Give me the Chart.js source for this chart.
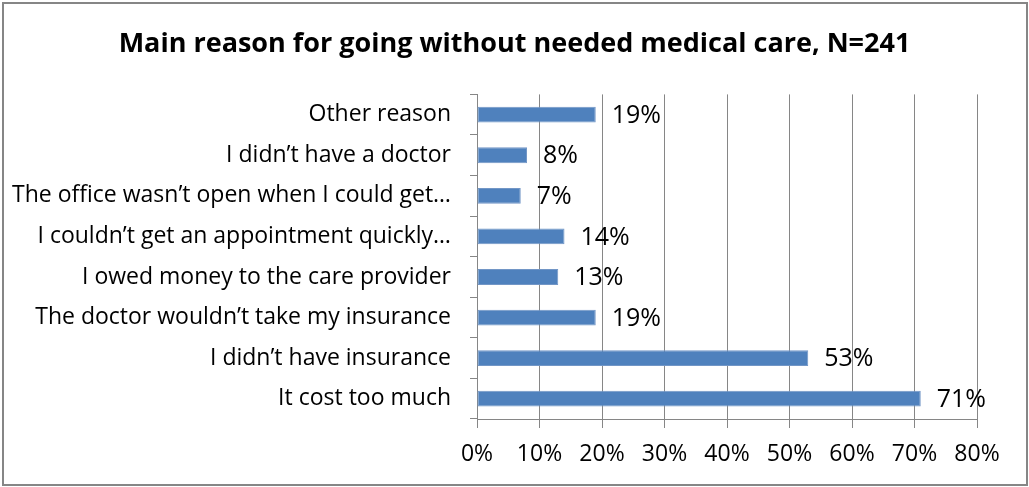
<!DOCTYPE html>
<html>
<head>
<meta charset="utf-8">
<title>Main reason for going without needed medical care</title>
<script src="https://cdn.jsdelivr.net/npm/chart.js@4.4.1/dist/chart.umd.min.js"></script>
<style>
  html, body { margin: 0; padding: 0; background: #fff; }
  #reasonsChart { display: block; }
</style>
</head>
<body>
<canvas id="reasonsChart" width="1029" height="487"></canvas>
<script>
const reasons = [
  'Other reason',
  'I didn\u2019t have a doctor',
  'The office wasn\u2019t open when I could get\u2026',
  'I couldn\u2019t get an appointment quickly\u2026',
  'I owed money to the care provider',
  'The doctor wouldn\u2019t take my insurance',
  'I didn\u2019t have insurance',
  'It cost too much'
];
const percents = [19, 8, 7, 14, 13, 19, 53, 71];
const axisTicks = [0, 10, 20, 30, 40, 50, 60, 70, 80];

const FONT = "'Open Sans', sans-serif";
const GRID = '#868686';

// value labels at the end of each bar
const barValues = {
  id: 'barValues',
  afterDatasetsDraw(chart) {
    const ctx = chart.ctx;
    const meta = chart.getDatasetMeta(0);
    ctx.save();
    ctx.font = '25px ' + FONT;
    ctx.fillStyle = '#000';
    ctx.textAlign = 'left';
    ctx.textBaseline = 'middle';
    meta.data.forEach((bar, i) => {
      ctx.fillText(percents[i] + '%', bar.x + 16, bar.y + 1);
    });
    ctx.restore();
  }
};

// centre the title across the whole canvas, not just the padded box
const wideTitle = {
  id: 'wideTitle',
  afterLayout(chart) {
    const t = chart.titleBlock;
    if (!t) return;
    t.left = 0;
    t.right = chart.width;
    t.width = chart.width;
  }
};

// outer frame round the whole chart
const frame = {
  id: 'frame',
  afterDraw(chart) {
    const ctx = chart.ctx;
    ctx.save();
    ctx.strokeStyle = GRID;
    ctx.lineWidth = 2;
    ctx.strokeRect(3, 3, 1024, 482);
    ctx.restore();
  }
};

new Chart(document.getElementById('reasonsChart'), {
  type: 'bar',
  data: {
    labels: reasons,
    datasets: [{
      data: percents,
      backgroundColor: '#4F81BD',
      borderColor: '#7296C6',
      borderWidth: 1,
      borderSkipped: false,
      categoryPercentage: 0.39,
      barPercentage: 1
    }]
  },
  options: {
    indexAxis: 'y',
    responsive: false,
    animation: false,
    devicePixelRatio: 1,
    layout: { padding: { top: 0, right: 52, bottom: 0, left: 0 } },
    plugins: {
      legend: { display: false },
      tooltip: { enabled: false },
      title: {
        display: true,
        text: 'Main reason for going without needed medical care, N=241',
        color: '#000',
        font: { family: FONT, size: 27, weight: 'bold' },
        padding: { top: 28, bottom: 34 }
      }
    },
    scales: {
      x: {
        min: axisTicks[0],
        max: axisTicks[axisTicks.length - 1],
        afterBuildTicks(scale) {
          scale.ticks = axisTicks.map(v => ({ value: v }));
        },
        afterFit(scale) { scale.height = 68; },
        grid: { color: GRID, tickLength: 9, tickColor: GRID },
        border: { color: GRID },
        ticks: {
          color: '#000',
          font: { family: FONT, size: 23 },
          padding: 13,
          callback: v => v + '%'
        }
      },
      y: {
        afterFit(scale) { scale.width = 477; },
        grid: { drawOnChartArea: false, color: GRID, tickLength: 7, offset: true },
        border: { color: GRID },
        ticks: {
          color: '#000',
          font: { family: FONT, size: 23 },
          padding: 19,
          autoSkip: false
        }
      }
    }
  },
  plugins: [wideTitle, barValues, frame]
});
</script>
</body>
</html>
